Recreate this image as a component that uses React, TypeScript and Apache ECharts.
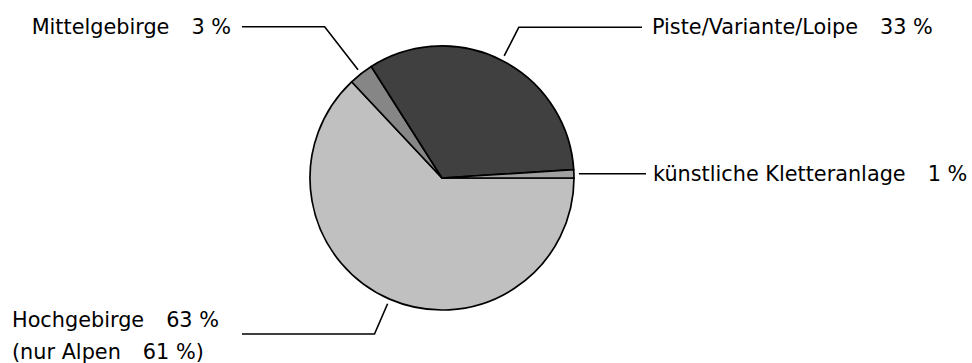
import React, { useEffect, useRef } from "react";
import * as echarts from "echarts";

// Share of accidents by terrain type (percent)
const categories = [
  "Hochgebirge",
  "Mittelgebirge",
  "Piste/Variante/Loipe",
  "künstliche Kletteranlage",
];
const shares = [63, 3, 33, 1];
// Alpine-only share, shown as a note under "Hochgebirge"
const alpineOnlyShare = 61;
const alpineOnlyLabel = "(nur Alpen";

const sliceColors = ["#c0c0c0", "#868686", "#404040", "#a0a0a0"];

// Where each label sits and how its leader line bends (pixels)
const labelSpots = [
  { textX: 12, textY: 336, lineY: 334, lineEndX: 242, align: "left" },
  { textX: 231, textY: 26.5, lineY: 26.7, lineEndX: 242, align: "right" },
  { textX: 652, textY: 27, lineY: 27.3, lineEndX: 642, align: "left" },
  { textX: 653, textY: 173.5, lineY: null as number | null, lineEndX: 646, align: "left" },
];

const FONT = "DejaVu Sans";
const FONT_SIZE = 20.8;

export default function App() {
  const ref = useRef<HTMLDivElement>(null);

  useEffect(() => {
    if (!ref.current) return;
    const chart = echarts.init(ref.current, null, { renderer: "svg" });

    const tokenStyle = {
      fontFamily: FONT,
      fontSize: FONT_SIZE,
      color: "#000",
      lineHeight: 31.5,
    };

    chart.setOption({
      animation: false,
      backgroundColor: "#ffffff",
      series: [
        {
          type: "pie",
          center: [442, 178],
          radius: 132,
          startAngle: 0,
          clockwise: true,
          avoidLabelOverlap: false,
          silent: true,
          emphasis: { disabled: true },
          itemStyle: { borderColor: "#000", borderWidth: 1.7 },
          data: categories.map((name, i) => ({
            name,
            value: shares[i],
            itemStyle: { color: sliceColors[i] },
          })),
          label: {
            show: true,
            position: "outside",
            fontFamily: FONT,
            fontSize: FONT_SIZE,
            color: "#000",
            lineHeight: 31.5,
            formatter: (p: any) => {
              const first = `{n|${p.name}}{v|${shares[p.dataIndex]} %}`;
              if (p.dataIndex === 0) {
                return `${first}\n{n|${alpineOnlyLabel}}{v|${alpineOnlyShare} %)}`;
              }
              return first;
            },
            rich: {
              n: { ...tokenStyle },
              v: { ...tokenStyle, padding: [0, 0, 0, 22] },
            },
          },
          labelLine: {
            show: true,
            length: 20,
            length2: 20,
            lineStyle: { color: "#000", width: 1.6 },
          },
          labelLayout: (params: any) => {
            const spot = labelSpots[params.dataIndex];
            const base = {
              x: spot.textX,
              y: spot.textY,
              align: spot.align,
              verticalAlign: "middle",
            };
            const pts = params.labelLinePoints;
            if (!pts || pts.length < 2) return base;
            const p0 = pts[0];
            const p1 = pts[1];
            let ux = p1[0] - p0[0];
            let uy = p1[1] - p0[1];
            const len = Math.hypot(ux, uy) || 1;
            ux /= len;
            uy /= len;
            const sx = p0[0] + ux * 5;
            const sy = p0[1] + uy * 5;
            let ex = sx;
            let ey = sy;
            if (spot.lineY !== null && Math.abs(uy) > 1e-6) {
              const t = (spot.lineY - sy) / uy;
              ex = sx + ux * t;
              ey = spot.lineY;
            }
            return {
              ...base,
              labelLinePoints: [
                [sx, sy],
                [ex, ey],
                [spot.lineEndX, ey],
              ],
            };
          },
        },
      ],
    });

    return () => chart.dispose();
  }, []);

  return (
    <div
      ref={ref}
      style={{ position: "fixed", left: 0, top: 0, width: 972, height: 363 }}
    />
  );
}
